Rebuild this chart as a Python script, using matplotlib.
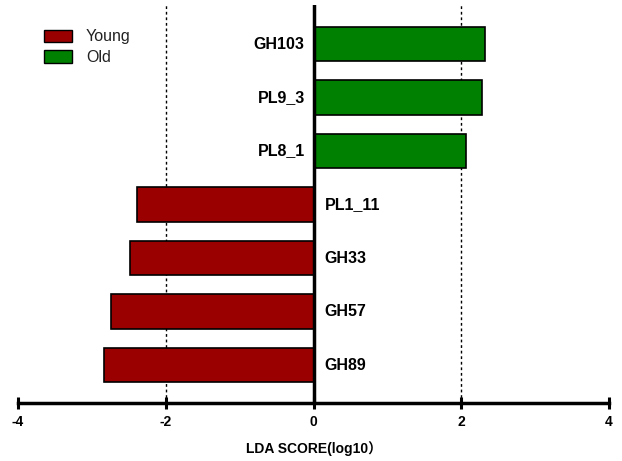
import matplotlib
matplotlib.use("Agg")
import matplotlib.pyplot as plt
from matplotlib.patches import Patch

plt.rcParams['font.family'] = ['Liberation Sans', 'Noto Sans CJK SC', 'DejaVu Sans']

features = ["GH103", "PL9_3", "PL8_1", "PL1_11", "GH33", "GH57", "GH89"]
scores = [2.32, 2.28, 2.07, -2.39, -2.49, -2.74, -2.83]
groups = ["Old", "Old", "Old", "Young", "Young", "Young", "Young"]
group_colors = {"Young": "#9b0000", "Old": "#008000"}
xticks = [-4, -2, 0, 2, 4]
xlabel = "LDA SCORE(log10）"

fig = plt.figure(figsize=(6.22, 4.61), dpi=100)
ax = fig.add_axes([18/622, 1-403/461, (609-18)/622, (403-5)/461])

n = len(features)
ypos = [n - 1 - i for i in range(n)]
colors = [group_colors[g] for g in groups]
ax.barh(ypos, scores, height=0.65, color=colors, edgecolor="black", linewidth=1.2, zorder=3)

for y, s, f in zip(ypos, scores, features):
    if s > 0:
        ax.text(-0.12, y, f, ha="right", va="center", fontsize=11.5, fontweight="bold", zorder=4)
    else:
        ax.text(0.15, y, f, ha="left", va="center", fontsize=11.5, fontweight="bold", zorder=4)

ax.axvline(0, color="black", linewidth=2.5, zorder=5)
for xv in (-2, 2):
    ax.axvline(xv, color="black", linewidth=1, linestyle=(0, (2, 2)), zorder=1)

ax.set_xlim(-4, 4)
ax.set_ylim(-0.71, 6.73)
ax.set_xticks(xticks)
ax.set_xticklabels([str(t) for t in xticks], fontweight="bold", fontsize=10)
ax.set_yticks([])
for side in ("left", "right", "top"):
    ax.spines[side].set_visible(False)
ax.spines["bottom"].set_linewidth(2.5)
ax.tick_params(axis="x", direction="inout", length=9, width=2.2, pad=4)
ax.set_xlabel(xlabel, fontweight="bold", fontsize=10, labelpad=9)

handles = [Patch(facecolor=group_colors["Young"], edgecolor="black", label="Young"),
           Patch(facecolor=group_colors["Old"], edgecolor="black", label="Old")]
fig.legend(handles=handles, loc="upper left", bbox_to_anchor=(30/622, 1-15/461),
           frameon=False, fontsize=11.5, handlelength=1.7, handleheight=0.8,
           labelspacing=0.35, handletextpad=0.9, labelcolor="#222222")

fig.savefig("out.png", dpi=100)
